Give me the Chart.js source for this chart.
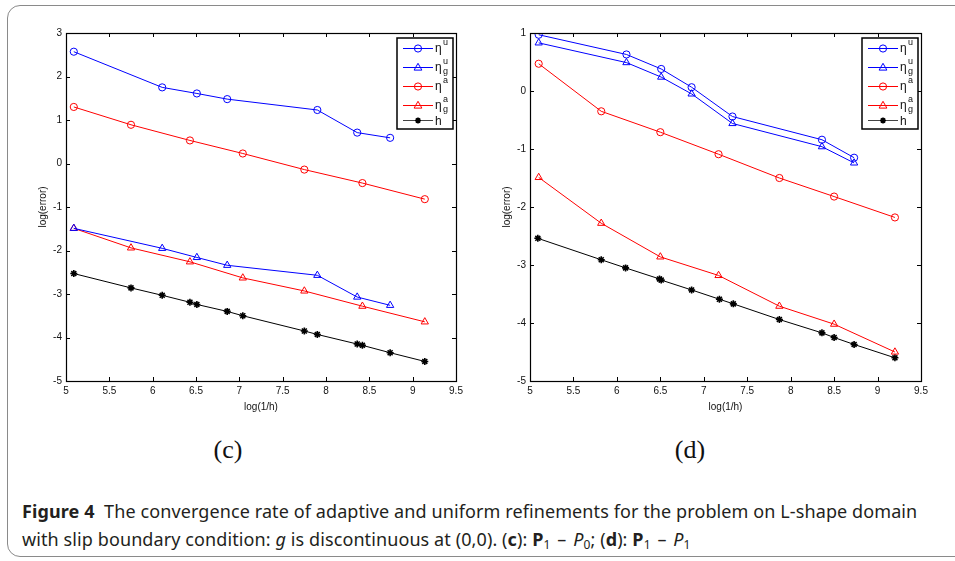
<!DOCTYPE html>
<html lang="en">
<head>
    <meta charset="UTF-8">
    <title>Figure 4 - convergence rate</title>
    <script src="https://cdn.jsdelivr.net/npm/chart.js"></script>
    <style>
        body { margin: 0; background: #fff; width: 955px; height: 561px; overflow: hidden; position: relative; }
        #frame {
            position: absolute; left: 7px; top: 5px; width: 1000px; height: 550px;
            border: 1.5px solid #8a8a8a; border-radius: 13px;
        }
        #chartC { position: absolute; left: 0; top: 0; }
        #chartD { position: absolute; left: 480px; top: 0; }
        .sublabel {
            position: absolute; top: 435px; width: 60px; text-align: center;
            font-family: "Liberation Serif", "DejaVu Serif", serif; font-size: 26px; color: #111;
        }
        #caption {
            position: absolute; left: 22px; top: 497px; width: 933px; white-space: nowrap;
            font-family: "Noto Sans", "Open Sans", sans-serif; font-size: 18px; line-height: 28px;
            color: #231f20; letter-spacing: 0.1px;
        }
        #caption b { font-weight: 700; }
        #caption sub { font-size: 12px; vertical-align: -3px; line-height: 0; }
        #caption .sp { padding: 0 2px; }
    </style>
</head>
<body>
    <div id="frame"></div>
    <canvas id="chartC" width="480" height="420"></canvas>
    <canvas id="chartD" width="475" height="420"></canvas>
    <div class="sublabel" style="left:198px">(c)</div>
    <div class="sublabel" style="left:660px">(d)</div>
    <div id="caption"><b>Figure 4</b>&nbsp; The convergence rate of adaptive and uniform refinements for the problem on L-shape domain<br>with slip boundary condition: <i>g</i> is discontinuous at (0,0). (<b>c</b>): <b>P</b><sub>1</sub> <span class="sp">&ndash;</span> <i>P</i><sub>0</sub>; (<b>d</b>): <b>P</b><sub>1</sub> <span class="sp">&ndash;</span> <i>P</i><sub>1</sub></div>

    <script>
        // ---- panel (c): P1 - P0 ----
        const cUx   = [5.09, 6.11, 6.51, 6.86, 7.90, 8.36, 8.74];
        const cEtaU  = [2.57, 1.75, 1.61, 1.48, 1.23, 0.71, 0.59];
        const cEtaUg = [-1.49, -1.95, -2.16, -2.34, -2.57, -3.07, -3.26];
        const cAx   = [5.09, 5.75, 6.43, 7.04, 7.75, 8.42, 9.14];
        const cEtaA  = [1.30, 0.89, 0.53, 0.23, -0.14, -0.45, -0.82];
        const cEtaAg = [-1.49, -1.94, -2.26, -2.63, -2.93, -3.28, -3.64];
        const cHx = [5.09, 5.75, 6.11, 6.43, 6.51, 6.86, 7.04, 7.75, 7.90, 8.36, 8.42, 8.74, 9.14];
        const cH  = [-2.53, -2.86, -3.03, -3.19, -3.24, -3.40, -3.50, -3.85, -3.93, -4.15, -4.18, -4.35, -4.55];

        // ---- panel (d): P1 - P1 ----
        const dUx   = [5.10, 6.11, 6.51, 6.86, 7.33, 8.36, 8.73];
        const dEtaU  = [0.97, 0.63, 0.38, 0.065, -0.44, -0.84, -1.15];
        const dEtaUg = [0.83, 0.49, 0.24, -0.05, -0.56, -0.96, -1.24];
        const dAx   = [5.10, 5.82, 6.50, 7.17, 7.87, 8.50, 9.20];
        const dEtaA  = [0.47, -0.35, -0.71, -1.09, -1.50, -1.82, -2.18];
        const dEtaAg = [-1.49, -2.28, -2.86, -3.18, -3.71, -4.02, -4.50];
        const dHx = [5.09, 5.82, 6.10, 6.49, 6.51, 6.86, 7.18, 7.34, 7.87, 8.36, 8.50, 8.73, 9.20];
        const dH  = [-2.54, -2.91, -3.05, -3.24, -3.26, -3.43, -3.59, -3.67, -3.94, -4.17, -4.25, -4.37, -4.60];

        // axis ranges
        const xRange = [5, 9.5];
        const cYRange = [-5, 3];
        const dYRange = [-5, 1];

        // legend entries: superscript / subscript on eta
        const legendItems = [
            { sup: 'u', sub: '',  color: '#0000ff', marker: 'circle' },
            { sup: 'u', sub: 'g', color: '#0000ff', marker: 'triangle' },
            { sup: 'a', sub: '',  color: '#ff0000', marker: 'circle' },
            { sup: 'a', sub: 'g', color: '#ff0000', marker: 'triangle' },
            { text: 'h',          color: '#000000', marker: 'star' }
        ];

        const FONT = '"Liberation Sans", Arial, sans-serif';

        function pairs(xs, ys) {
            return xs.map((x, i) => ({ x: x, y: ys[i] }));
        }

        function series(label, xs, ys, color, marker) {
            return {
                label: label,
                data: pairs(xs, ys),
                showLine: true,
                borderColor: color,
                backgroundColor: 'rgba(0,0,0,0)',
                borderWidth: 1,
                pointStyle: marker,
                pointRadius: marker === 'star' ? 3.5 : (marker === 'triangle' ? 4.2 : 3.6),
                pointBorderColor: color,
                pointBackgroundColor: 'rgba(0,0,0,0)',
                pointBorderWidth: marker === 'star' ? 1.6 : 1,
                tension: 0
            };
        }

        function drawMarker(ctx, marker, x, y, color) {
            ctx.save();
            ctx.strokeStyle = color;
            ctx.lineWidth = 1;
            ctx.beginPath();
            if (marker === 'circle') {
                ctx.arc(x, y, 3.6, 0, Math.PI * 2);
            } else if (marker === 'triangle') {
                ctx.moveTo(x, y - 4.2);
                ctx.lineTo(x + 3.9, y + 2.6);
                ctx.lineTo(x - 3.9, y + 2.6);
                ctx.closePath();
            } else {
                ctx.lineWidth = 1.6;
                for (let k = 0; k < 4; k++) {
                    const a = k * Math.PI / 4;
                    ctx.moveTo(x - 3 * Math.cos(a), y - 3 * Math.sin(a));
                    ctx.lineTo(x + 3 * Math.cos(a), y + 3 * Math.sin(a));
                }
            }
            ctx.stroke();
            ctx.restore();
        }

        // MATLAB-like box axes with inward ticks plus the legend box
        const matlabFrame = {
            id: 'matlabFrame',
            afterDraw(chart) {
                const ctx = chart.ctx;
                const a = chart.chartArea;
                const xs = chart.scales.x, ys = chart.scales.y;
                ctx.save();
                ctx.strokeStyle = '#000';
                ctx.lineWidth = 1;
                ctx.beginPath();
                xs.ticks.forEach(t => {
                    const px = Math.round(xs.getPixelForValue(t.value)) + 0.5;
                    ctx.moveTo(px, a.bottom); ctx.lineTo(px, a.bottom - 4);
                    ctx.moveTo(px, a.top); ctx.lineTo(px, a.top + 4);
                });
                ys.ticks.forEach(t => {
                    const py = Math.round(ys.getPixelForValue(t.value)) + 0.5;
                    ctx.moveTo(a.left, py); ctx.lineTo(a.left + 4, py);
                    ctx.moveTo(a.right, py); ctx.lineTo(a.right - 4, py);
                });
                ctx.stroke();
                ctx.lineWidth = 1.2;
                ctx.strokeRect(Math.round(a.left) + 0.5, Math.round(a.top) + 0.5,
                    Math.round(a.right - a.left), Math.round(a.bottom - a.top));

                // legend
                const lx = a.right - 59, ly = a.top + 5, lw = 56, lh = 91;
                ctx.fillStyle = '#fff';
                ctx.fillRect(lx, ly, lw, lh);
                ctx.lineWidth = 1.5;
                ctx.strokeStyle = '#000';
                ctx.strokeRect(lx, ly, lw, lh);
                const rows = [10, 29, 48, 67, 82];
                legendItems.forEach((it, i) => {
                    const y = ly + rows[i];
                    ctx.strokeStyle = it.marker === 'star' ? '#444' : it.color;
                    ctx.lineWidth = 1;
                    ctx.beginPath();
                    ctx.moveTo(lx + 6, y + 0.5); ctx.lineTo(lx + 36, y + 0.5);
                    ctx.stroke();
                    drawMarker(ctx, it.marker, lx + 21, y + 0.5, it.color);
                    ctx.fillStyle = '#111';
                    ctx.textBaseline = 'alphabetic';
                    ctx.textAlign = 'left';
                    const tx = lx + 38;
                    if (it.text) {
                        ctx.font = '12px ' + FONT;
                        ctx.fillText(it.text, tx, y + 5);
                    } else {
                        ctx.font = '12px ' + FONT;
                        ctx.fillText('\u03b7', tx, y + 4);
                        ctx.font = '9px ' + FONT;
                        ctx.fillText(it.sup, tx + 8, y - 3);
                        if (it.sub) ctx.fillText(it.sub, tx + 8, y + 7);
                    }
                });
                ctx.restore();
            }
        };

        function makeChart(id, yRange, pad, datasets) {
            return new Chart(document.getElementById(id).getContext('2d'), {
                type: 'scatter',
                data: { datasets: datasets },
                options: {
                    responsive: false,
                    animation: false,
                    devicePixelRatio: 1,
                    layout: { padding: pad },
                    plugins: { legend: { display: false }, tooltip: { enabled: false } },
                    scales: {
                        x: {
                            type: 'linear', min: xRange[0], max: xRange[1],
                            afterFit: s => { s.height = 32; },
                            grid: { drawOnChartArea: false, drawTicks: false },
                            border: { display: false },
                            ticks: { stepSize: 0.5, padding: 4, color: '#111', font: { family: FONT, size: 10 },
                                     callback: v => String(v) },
                            title: { display: true, text: 'log(1/h)', color: '#111', padding: { top: 0, bottom: 0 },
                                     font: { family: FONT, size: 10 } }
                        },
                        y: {
                            type: 'linear', min: yRange[0], max: yRange[1],
                            afterFit: s => { s.width = 29; },
                            grid: { drawOnChartArea: false, drawTicks: false },
                            border: { display: false },
                            ticks: { stepSize: 1, padding: 4, color: '#111', font: { family: FONT, size: 10 },
                                     callback: v => String(v) },
                            title: { display: true, text: 'log(error)', color: '#111', padding: { top: 0, bottom: 2 },
                                     font: { family: FONT, size: 10 } }
                        }
                    }
                },
                plugins: [matlabFrame]
            });
        }

        makeChart('chartC', cYRange, { left: 37, top: 33, right: 24, bottom: 7 }, [
            series('\u03b7u', cUx, cEtaU, '#0000ff', 'circle'),
            series('\u03b7u_g', cUx, cEtaUg, '#0000ff', 'triangle'),
            series('\u03b7a', cAx, cEtaA, '#ff0000', 'circle'),
            series('\u03b7a_g', cAx, cEtaAg, '#ff0000', 'triangle'),
            series('h', cHx, cH, '#000000', 'star')
        ]);

        makeChart('chartD', dYRange, { left: 21, top: 33, right: 34, bottom: 7 }, [
            series('\u03b7u', dUx, dEtaU, '#0000ff', 'circle'),
            series('\u03b7u_g', dUx, dEtaUg, '#0000ff', 'triangle'),
            series('\u03b7a', dAx, dEtaA, '#ff0000', 'circle'),
            series('\u03b7a_g', dAx, dEtaAg, '#ff0000', 'triangle'),
            series('h', dHx, dH, '#000000', 'star')
        ]);
    </script>
</body>
</html>
